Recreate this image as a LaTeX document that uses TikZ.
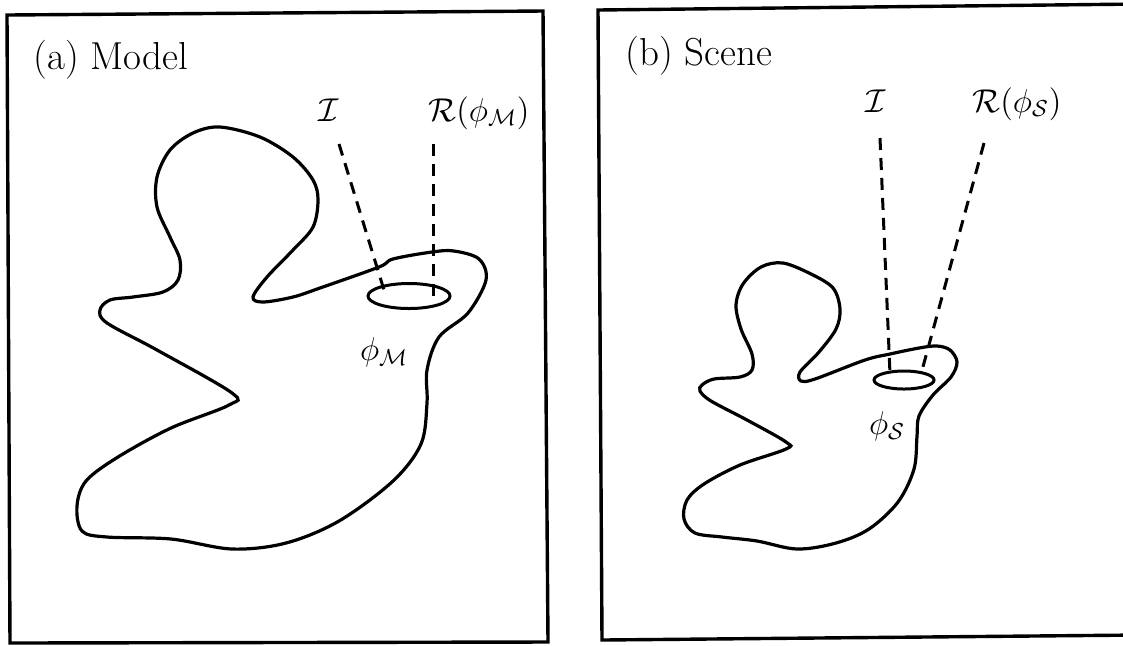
\RequirePackage{fix-cm}
\documentclass[tikz,border=0pt]{standalone}
\usepackage{amsmath}
\usetikzlibrary{shapes.geometric}
\begin{document}
\begin{tikzpicture}[x=0.5pt,y=-0.5pt,
  frame/.style={line width=1.7pt,line join=miter},
  outline/.style={line width=1.6pt},
  ray/.style={line width=1.5pt,dash pattern=on 6pt off 4pt},
  lbl/.style={inner sep=0pt,font=\fontsize{19.5}{23}\selectfont},
  mlbl/.style={inner sep=0pt,font=\fontsize{16.5}{20}\selectfont},
  hole/.style={draw,line width=1.5pt,ellipse,inner sep=0pt}]
\useasboundingbox (0,0) rectangle (1123,645);
% frames
\draw[frame] (7,15) -- (543,11) -- (548,642) -- (10,643) -- cycle;
\draw[frame] (1140,4) -- (598,10) -- (602,640) -- (1140,635);
% panel titles
\node[lbl,anchor=base west] (ta) at (33,69) {(a) Model};
\node[lbl,anchor=base west] (tb) at (625,65) {(b) Scene};
% ---------- left blob ----------
\draw[outline] plot[smooth cycle,tension=0.55] coordinates {
(220,127) (193,133) (170,150) (157,177) (157,207) (170,237) (180,260) (178,280)
(163,292) (133,297) (110,300) (100,310) (107,323) (157,350) (232,393) (229,405)
(171,428) (118,457) (86,481) (77,506) (82,531) (107,537) (171,539) (232,549)
(286,543) (339,521) (393,481) (421,444) (427,403) (427,370) (439,337) (468,313)
(486,280) (479,259) (454,251) (432,252) (393,259) (379,267) (320,288) (293,297)
(263,302) (253,297) (267,277) (293,250) (313,227) (318,200) (313,180) (293,157)
(260,137)};
\node[hole,minimum width=41pt,minimum height=12.5pt] (ea) at (409,296) {};
\node[mlbl,anchor=base] (ia) at (329,121) {$\mathcal{I}$};
\node[mlbl,anchor=base west] (ra) at (428,121) {$\mathcal{R}(\phi_{\mathcal{M}})$};
\node[mlbl] (pa) at (384,352) {$\phi_{\mathcal{M}}$};
\coordinate (ia1) at (339,144);
\coordinate (ia2) at (384,290);
\coordinate (ra1) at (433,144);
\coordinate (ra2) at (433,300);
\draw[ray] (ia1) -- (ia2);
\draw[ray] (ra1) -- (ra2);
% ---------- right blob ----------
\draw[outline] plot[smooth cycle,tension=0.55] coordinates {
(761,267) (743,284) (736,305) (741,329) (752,354) (752,370) (740,377) (714,379)
(702,385) (700,391) (711,401) (747,420) (786,442) (786,449) (740,465) (704,484)
(687,500) (684,519) (695,533) (722,537) (757,541) (797,549) (836,543) (869,529)
(898,502) (914,469) (917,436) (919,416) (933,395) (951,377) (957,362) (950,350)
(937,346) (919,348) (890,354) (865,360) (815,379) (801,381) (800,372) (819,352)
(836,329) (840,309) (833,288) (811,274) (783,263)};
\node[hole,minimum width=30pt,minimum height=9pt] (eb) at (904,380) {};
\node[mlbl,anchor=base] (ib) at (876,112) {$\mathcal{I}$};
\node[mlbl,anchor=base west] (rb) at (972,112) {$\mathcal{R}(\phi_{\mathcal{S}})$};
\node[mlbl] (pb) at (887,426) {$\phi_{\mathcal{S}}$};
\coordinate (ib1) at (880,138);
\coordinate (ib2) at (890,374);
\coordinate (rb1) at (984,143);
\coordinate (rb2) at (921,374);
\draw[ray] (ib1) -- (ib2);
\draw[ray] (rb1) -- (rb2);
\end{tikzpicture}
\end{document}
